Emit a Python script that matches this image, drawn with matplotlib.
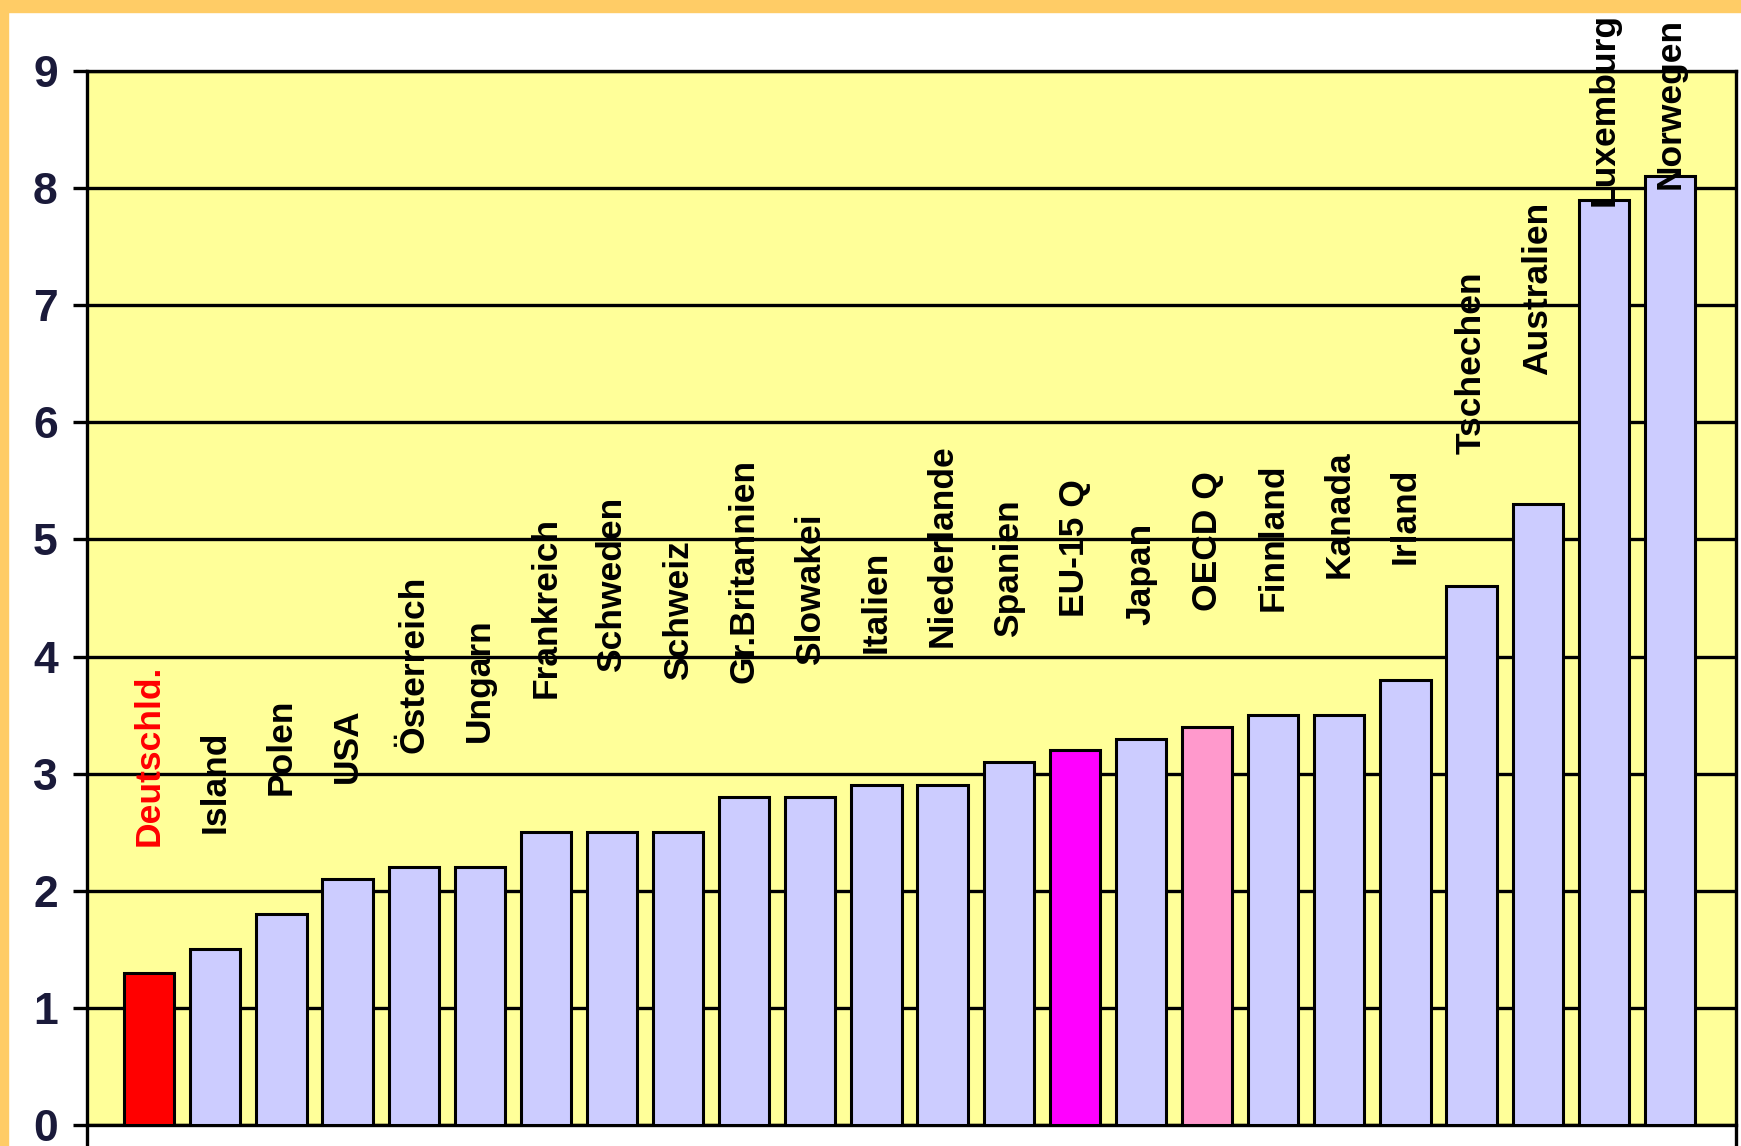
import matplotlib.pyplot as plt
import numpy as np
from matplotlib.patches import Rectangle

countries = ['Deutschld.', 'Island', 'Polen', 'USA', 'Österreich', 'Ungarn',
             'Frankreich', 'Schweden', 'Schweiz', 'Gr.Britannien', 'Slowakei',
             'Italien', 'Niederlande', 'Spanien', 'EU-15 Q', 'Japan', 'OECD Q',
             'Finnland', 'Kanada', 'Irland', 'Tschechen', 'Australien',
             'Luxemburg', 'Norwegen']
values = [1.3, 1.5, 1.8, 2.1, 2.2, 2.2, 2.5, 2.5, 2.5, 2.8, 2.8, 2.9, 2.9,
          3.1, 3.2, 3.3, 3.4, 3.5, 3.5, 3.8, 4.6, 5.3, 7.9, 8.1]

# where the vertical name labels start (y units), as in the original sheet
label_base = [2.38, 2.49, 2.82, 2.92, 3.18, 3.27, 3.65, 3.87, 3.80, 3.77, 3.93,
              4.03, 4.08, 4.17, 4.34, 4.27, 4.39, 4.39, 4.67, 4.79, 5.73, 6.40,
              7.85, 7.99]

colors = ['#CCCCFF'] * len(countries)
colors[0] = '#FF0000'
colors[countries.index('EU-15 Q')] = '#FF00FF'
colors[countries.index('OECD Q')] = '#FF99CC'

fonts = ['Liberation Sans Narrow', 'Liberation Sans', 'DejaVu Sans']

fig = plt.figure(figsize=(17.41, 11.46), dpi=100)
fig.patch.set_facecolor('white')
# orange frame at top and left
fig.add_artist(Rectangle((0, 1 - 12 / 1146), 1, 12 / 1146, transform=fig.transFigure,
                         color='#FFCC66', zorder=0))
fig.add_artist(Rectangle((0, 0), 8 / 1741, 1, transform=fig.transFigure,
                         color='#FFCC66', zorder=0))

ax = fig.add_axes([87 / 1741, 21 / 1146, 1649 / 1741, 1054 / 1146])
ax.set_facecolor('#FFFF99')

idx = np.arange(len(countries))
ax.bar(idx, values, width=0.76, color=colors, edgecolor='black', linewidth=2.2, zorder=3)

for i, name in enumerate(countries):
    ax.text(idx[i], label_base[i], name, rotation=90, ha='center', va='bottom',
            fontsize=25.5, fontweight='bold', family=fonts,
            color='red' if i == 0 else 'black', zorder=4, clip_on=False)

ax.set_xlim(-0.94, 24.0)
ax.set_ylim(0, 9)
ax.set_yticks(range(10))
ax.set_xticks([])
ax.yaxis.grid(True, color='black', linewidth=2.4, zorder=1)
ax.set_axisbelow(True)
ax.tick_params(axis='y', direction='out', length=10, width=2.4, pad=11,
               labelsize=32, labelcolor='#1a1a3a')
for lab in ax.get_yticklabels():
    lab.set_family(fonts)
    lab.set_fontweight('bold')
for s in ax.spines.values():
    s.set_linewidth(2.4)
    s.set_color('black')
# the value axis line runs on a little below zero, as in the source sheet
ax.spines['left'].set_bounds(-0.2, 9)
ax.spines['right'].set_bounds(-0.2, 9)

fig.savefig('out.png', dpi=100)
